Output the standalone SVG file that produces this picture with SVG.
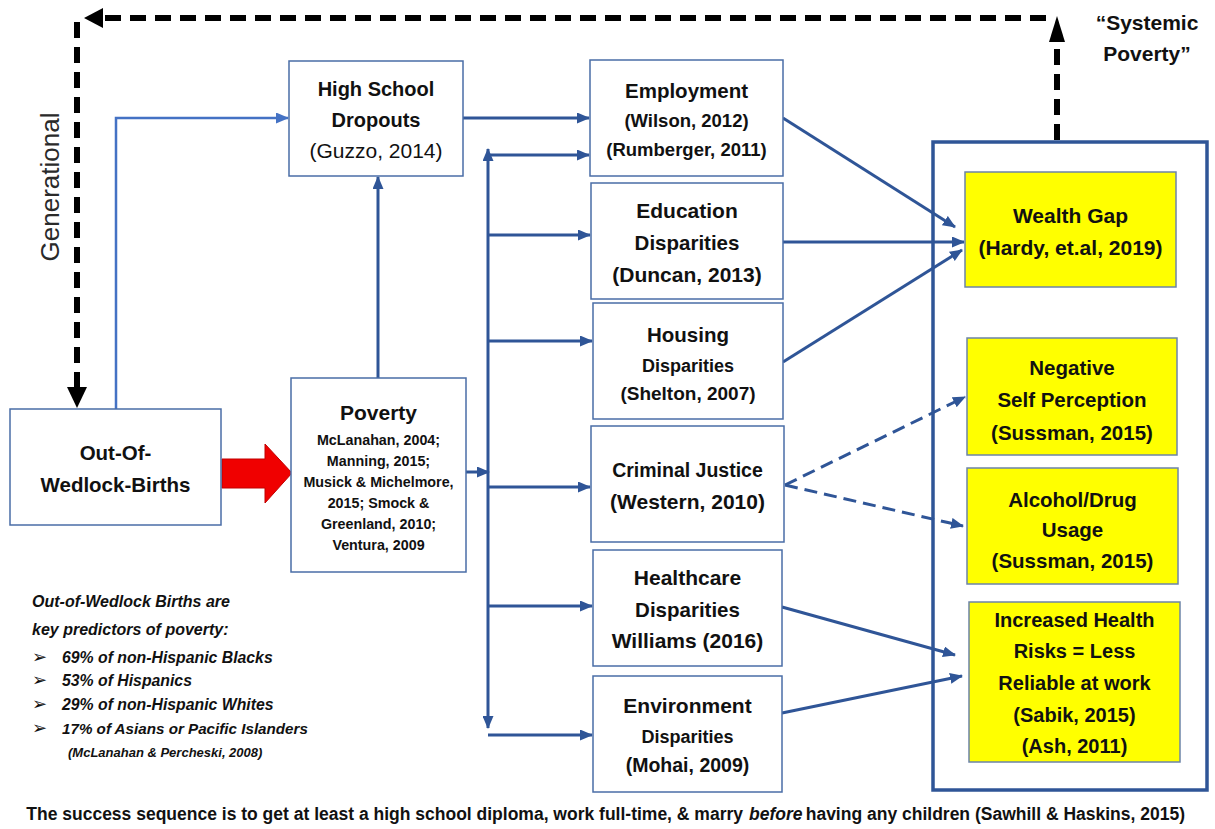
<svg xmlns="http://www.w3.org/2000/svg" width="1215" height="829" viewBox="0 0 1215 829">
<defs>
<style>
.box{fill:#fff;stroke:#4A6DA7;stroke-width:1.5}
.ybox{fill:#FFFF00;stroke:#6C84A8;stroke-width:1.5}
.big{fill:none;stroke:#2F5597;stroke-width:3.5}
.t{font-family:"Liberation Sans",Arial,sans-serif;font-weight:bold;fill:#111;text-anchor:middle}
.r{font-family:"Liberation Sans",Arial,sans-serif;fill:#111;text-anchor:middle}
.c{fill:none;stroke:#2F5597;stroke-width:3}
.cl{fill:none;stroke:#4472C4;stroke-width:2.5}
.d{fill:none;stroke:#2F5597;stroke-width:3;stroke-dasharray:13 7}
.k{fill:none;stroke:#000;stroke-width:6;stroke-dasharray:16 9}
.note{font-family:"Liberation Sans",Arial,sans-serif;font-weight:bold;font-style:italic;fill:#111}
.foot{font-family:"Liberation Sans",Arial,sans-serif;font-weight:bold;font-size:17.5px;fill:#111}
</style>
<marker id="a" markerUnits="userSpaceOnUse" markerWidth="13" markerHeight="11" refX="12" refY="5.5" orient="auto-start-reverse"><path d="M0,0 L13,5.5 L0,11 z" fill="#2F5597"/></marker>
<marker id="al" markerUnits="userSpaceOnUse" markerWidth="13" markerHeight="11" refX="12" refY="5.5" orient="auto"><path d="M0,0 L13,5.5 L0,11 z" fill="#4472C4"/></marker>
</defs>
<rect width="1215" height="829" fill="#fff"/>

<g id="connectors">
<path class="k" d="M1057,140 V42"/>
<path d="M1049,42 L1057,16 L1065,42 z" fill="#000"/>
<path class="k" d="M1046,18 H103"/>
<path d="M103,8 L84,18 L103,28 z" fill="#000"/>
<path class="k" d="M77,22 V387"/>
<path d="M67,387 L77,408 L87,387 z" fill="#000"/>
<path class="cl" d="M116,409 V118 H288" marker-end="url(#al)"/>
<path class="c" d="M378,378 V177" marker-end="url(#a)"/>
<path class="c" d="M463,118 H589" marker-end="url(#a)"/>
<path class="c" d="M466,472 H489" marker-end="url(#a)"/>
<path class="c" d="M488,149 V728" marker-start="url(#a)" marker-end="url(#a)"/>
<path class="c" d="M488,155 H589" marker-end="url(#a)"/>
<path class="c" d="M488,235 H590" marker-end="url(#a)"/>
<path class="c" d="M488,341 H592" marker-end="url(#a)"/>
<path class="c" d="M488,487 H590" marker-end="url(#a)"/>
<path class="c" d="M488,606 H592" marker-end="url(#a)"/>
<path class="c" d="M488,735 H592" marker-end="url(#a)"/>
<path class="c" d="M783,118 L955,227" marker-end="url(#a)"/>
<path class="c" d="M783,242 L964,242" marker-end="url(#a)"/>
<path class="c" d="M783,362 L962,250" marker-end="url(#a)"/>
<path class="d" d="M785,485 L965,397" marker-end="url(#a)"/>
<path class="d" d="M785,485 L963,526" marker-end="url(#a)"/>
<path class="c" d="M782,607 L955,655" marker-end="url(#a)"/>
<path class="c" d="M782,713 L962,676" marker-end="url(#a)"/>
</g>

<g id="red-arrow">
<path d="M222,459 H265 V444 L292,473 L265,503 V488 H222 z" fill="#F00000" stroke="#C00000" stroke-width="1"/>
</g>

<g id="generational-label">
<text class="r" transform="translate(59,187) rotate(-90)" x="0" y="0" font-size="26" style="fill:#2a2a2a">Generational</text>
</g>

<g id="systemic-label">
<text class="t" x="1147" y="30" font-size="21">“Systemic</text>
<text class="t" x="1147" y="61" font-size="21">Poverty”</text>
</g>

<g id="out-of-wedlock">
<rect class="box" x="10" y="409" width="211" height="116"/>
<text class="t" x="115.5" y="460" font-size="20.5">Out-Of-</text>
<text class="t" x="115.5" y="492" font-size="20.5">Wedlock-Births</text>
</g>

<g id="poverty">
<rect class="box" x="291" y="378" width="175" height="194"/>
<text class="t" x="378.5" y="420" font-size="21">Poverty</text>
<text class="t" x="378.5" y="445" font-size="14.3">McLanahan, 2004;</text>
<text class="t" x="378.5" y="466" font-size="14.3">Manning, 2015;</text>
<text class="t" x="378.5" y="487" font-size="14.3">Musick &amp; Michelmore,</text>
<text class="t" x="378.5" y="508" font-size="14.3">2015; Smock &amp;</text>
<text class="t" x="378.5" y="529" font-size="14.3">Greenland, 2010;</text>
<text class="t" x="378.5" y="550" font-size="14.3">Ventura, 2009</text>
</g>

<g id="hs-dropouts">
<rect class="box" x="289" y="61" width="174" height="115"/>
<text class="t" x="376" y="96" font-size="20">High School</text>
<text class="t" x="376" y="127" font-size="20">Dropouts</text>
<text class="r" x="376" y="158" font-size="21">(Guzzo, 2014)</text>
</g>

<g id="employment">
<rect class="box" x="590" y="60" width="193" height="116"/>
<text class="t" x="686.5" y="98" font-size="20.5">Employment</text>
<text class="t" x="686.5" y="127" font-size="18.5">(Wilson, 2012)</text>
<text class="t" x="686.5" y="156" font-size="18.5">(Rumberger, 2011)</text>
</g>

<g id="education">
<rect class="box" x="591" y="183" width="192" height="116"/>
<text class="t" x="687" y="218" font-size="21">Education</text>
<text class="t" x="687" y="250" font-size="20.5">Disparities</text>
<text class="t" x="687" y="282" font-size="21">(Duncan, 2013)</text>
</g>

<g id="housing">
<rect class="box" x="593" y="303" width="190" height="116"/>
<text class="t" x="688" y="342" font-size="20.5">Housing</text>
<text class="t" x="688" y="372" font-size="18">Disparities</text>
<text class="t" x="688" y="400" font-size="19">(Shelton, 2007)</text>
</g>

<g id="criminal-justice">
<rect class="box" x="591" y="426" width="193" height="116"/>
<text class="t" x="687.5" y="477" font-size="19.5">Criminal Justice</text>
<text class="t" x="687.5" y="509" font-size="21">(Western, 2010)</text>
</g>

<g id="healthcare">
<rect class="box" x="593" y="550" width="189" height="116"/>
<text class="t" x="687.5" y="585" font-size="21">Healthcare</text>
<text class="t" x="687.5" y="617" font-size="20.5">Disparities</text>
<text class="t" x="687.5" y="648" font-size="21">Williams (2016)</text>
</g>

<g id="environment">
<rect class="box" x="593" y="676" width="189" height="116"/>
<text class="t" x="687.5" y="713" font-size="21">Environment</text>
<text class="t" x="687.5" y="743" font-size="18">Disparities</text>
<text class="t" x="687.5" y="772" font-size="19.5">(Mohai, 2009)</text>
</g>

<g id="outcomes">
<rect class="big" x="933" y="142" width="274" height="648"/>
</g>

<g id="wealth-gap">
<rect class="ybox" x="965" y="172" width="211" height="115"/>
<text class="t" x="1070.5" y="223" font-size="21">Wealth Gap</text>
<text class="t" x="1070.5" y="255" font-size="21">(Hardy, et.al, 2019)</text>
</g>

<g id="self-perception">
<rect class="ybox" x="967" y="338" width="210" height="117"/>
<text class="t" x="1072" y="375" font-size="20.5">Negative</text>
<text class="t" x="1072" y="407" font-size="20.5">Self Perception</text>
<text class="t" x="1072" y="440" font-size="20.5">(Sussman, 2015)</text>
</g>

<g id="alcohol-drug">
<rect class="ybox" x="967" y="468" width="211" height="116"/>
<text class="t" x="1072.5" y="507" font-size="20.5">Alcohol/Drug</text>
<text class="t" x="1072.5" y="537" font-size="20.5">Usage</text>
<text class="t" x="1072.5" y="568" font-size="20.5">(Sussman, 2015)</text>
</g>

<g id="health-risks">
<rect class="ybox" x="969" y="602" width="211" height="160"/>
<text class="t" x="1074.5" y="627" font-size="20">Increased Health</text>
<text class="t" x="1074.5" y="658" font-size="20">Risks = Less</text>
<text class="t" x="1074.5" y="690" font-size="20">Reliable at work</text>
<text class="t" x="1074.5" y="722" font-size="20">(Sabik, 2015)</text>
<text class="t" x="1074.5" y="753" font-size="20">(Ash, 2011)</text>
</g>

<g id="note">
<text class="note" x="32" y="607" font-size="16">Out-of-Wedlock Births are</text>
<text class="note" x="32" y="635" font-size="16">key predictors of poverty:</text>
<g font-family="'DejaVu Sans',sans-serif" font-size="18" fill="#111">
<text x="32" y="663">➢</text>
<text x="32" y="686">➢</text>
<text x="32" y="710">➢</text>
<text x="32" y="734">➢</text>
</g>
<text class="note" x="62" y="663" font-size="15.8">69% of non-Hispanic Blacks</text>
<text class="note" x="62" y="686" font-size="15.8">53% of Hispanics</text>
<text class="note" x="62" y="710" font-size="15.8">29% of non-Hispanic Whites</text>
<text class="note" x="62" y="734" font-size="15.2">17% of Asians or Pacific Islanders</text>
<text class="note" x="68" y="757" font-size="13">(McLanahan &amp; Percheski, 2008)</text>
</g>

<g id="footnote">
<text class="foot" x="743" y="820" text-anchor="end">The success sequence is to get at least a high school diploma, work full-time, &amp; marry</text>
<text class="foot" x="749" y="820" font-style="italic">before</text>
<text class="foot" x="1185" y="820" text-anchor="end">having any children (Sawhill &amp; Haskins, 2015)</text>
</g>
</svg>
